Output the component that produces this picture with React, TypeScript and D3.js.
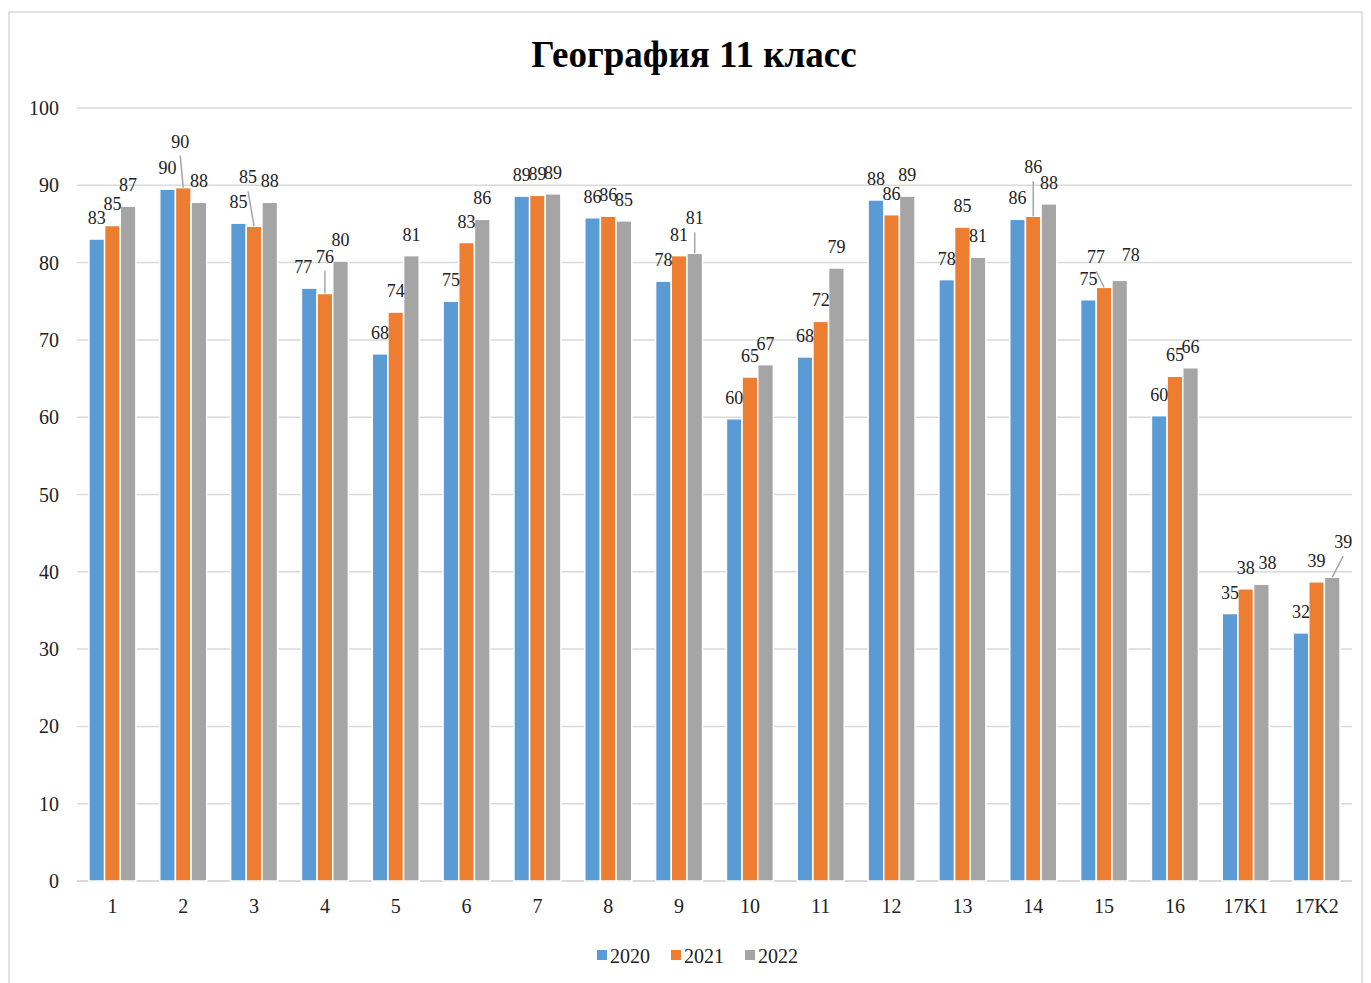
import * as React from "react";
import * as d3 from "d3";

const categories: string[] = ["1", "2", "3", "4", "5", "6", "7", "8", "9", "10", "11", "12", "13", "14", "15", "16", "17K1", "17K2"];
const seriesNames: string[] = ["2020", "2021", "2022"];
const values2020: number[] = [83.05, 89.5, 85.1, 76.7, 68.2, 75.0, 88.6, 85.8, 77.6, 59.8, 67.8, 88.1, 77.8, 85.6, 75.2, 60.2, 34.6, 32.1];
const values2021: number[] = [84.8, 89.7, 84.7, 76.0, 73.6, 82.6, 88.7, 86.0, 80.9, 65.2, 72.4, 86.2, 84.6, 86.0, 76.8, 65.3, 37.8, 38.7];
const values2022: number[] = [87.3, 87.8, 87.8, 80.2, 80.9, 85.6, 88.9, 85.4, 81.2, 66.8, 79.3, 88.6, 80.7, 87.6, 77.7, 66.4, 38.4, 39.3];
const yTicks: number[] = [0, 10, 20, 30, 40, 50, 60, 70, 80, 90, 100];
const title: string = "География 11 класс";

const colors: string[] = ["#5B9BD5", "#ED7D31", "#A5A5A5"];
const grid: string = "#d9d9d9";
const font: string = "'Liberation Serif', 'Times New Roman', serif";

// labels that Excel moved by hand (offsets from the default spot), some with leader lines
interface Nudge {
    dx: number;
    dy: number;
    leader?: boolean;
}
const labelNudges: { [key: string]: Nudge } = {
    "2|1": { dx: -3, dy: -25, leader: true },
    "3|1": { dx: -6, dy: -28, leader: true },
    "4|0": { dx: -6, dy: 0 },
    "4|1": { dx: 0, dy: -16, leader: true },
    "9|2": { dx: 0, dy: -14, leader: true },
    "14|1": { dx: 0, dy: -28, leader: true },
    "15|1": { dx: -8, dy: -9, leader: true },
    "15|2": { dx: 11, dy: -4 },
    "17K1|2": { dx: 6, dy: 0 },
    "17K2|2": { dx: 11, dy: -14, leader: true }
};

const width: number = 1371;
const height: number = 983;
const margin = { top: 108, right: 19, bottom: 102, left: 77 };

export default function App(): JSX.Element {
    const series: number[][] = [values2020, values2021, values2022];

    const x0 = d3.scaleBand<string>()
        .domain(categories)
        .range([margin.left, width - margin.right])
        .paddingInner(0.337)
        .paddingOuter(0.1685);
    const x1 = d3.scaleBand<string>()
        .domain(seriesNames)
        .range([0, x0.bandwidth()]);
    const y = d3.scaleLinear()
        .domain([0, 100])
        .range([height - margin.bottom, margin.top]);

    const bars: JSX.Element[] = [];
    const labels: JSX.Element[] = [];
    categories.forEach((cat: string, i: number) => {
        seriesNames.forEach((name: string, s: number) => {
            const v: number = series[s][i];
            const bx: number = (x0(cat) as number) + (x1(name) as number);
            const bw: number = x1.bandwidth();
            const cx: number = bx + bw / 2;
            bars.push(
                <rect key={`b${i}-${s}`} x={bx} y={y(v)} width={bw} height={y(0) - y(v)}
                    fill={colors[s]} stroke="#fff" strokeWidth={1.5} />
            );
            const n: Nudge = labelNudges[`${cat}|${s}`] || { dx: 0, dy: 0 };
            const lx: number = cx + n.dx;
            const ly: number = y(v) - 15 + n.dy;
            if (n.leader) {
                labels.push(
                    <line key={`l${i}-${s}`} x1={lx} y1={ly + 8} x2={cx} y2={y(v)}
                        stroke="#a6a6a6" strokeWidth={1.5} />
                );
            }
            labels.push(
                <text key={`t${i}-${s}`} x={lx} y={ly} textAnchor="middle" fontSize={18} fill="#222">
                    {Math.round(v)}
                </text>
            );
        });
    });

    const legendX: number[] = [597, 671, 745];

    return (
        <svg width={width} height={height} style={{ position: "absolute", left: 0, top: 0, background: "#fff" }}
            fontFamily={font}>
            <rect x={9} y={12} width={1353} height={990} fill="#fff" stroke={grid} strokeWidth={1.5} />
            <text x={694} y={67} textAnchor="middle" fontSize={37} fontWeight="bold" fill="#000">{title}</text>
            {yTicks.map((t: number) => (
                <g key={`y${t}`}>
                    <line x1={margin.left} x2={width - margin.right} y1={y(t)} y2={y(t)}
                        stroke={grid} strokeWidth={t === 0 ? 2 : 1.5} />
                    <text x={59} y={y(t)} dy="0.35em" textAnchor="end" fontSize={20} fill="#222">{t}</text>
                </g>
            ))}
            {bars}
            {labels}
            {categories.map((cat: string) => (
                <text key={`c${cat}`} x={(x0(cat) as number) + x0.bandwidth() / 2} y={913}
                    textAnchor="middle" fontSize={20} fill="#222">{cat}</text>
            ))}
            {seriesNames.map((name: string, s: number) => (
                <g key={`lg${name}`}>
                    <rect x={legendX[s]} y={950} width={10} height={10} fill={colors[s]} />
                    <text x={legendX[s] + 13} y={963} fontSize={20} fill="#222">{name}</text>
                </g>
            ))}
        </svg>
    );
}
